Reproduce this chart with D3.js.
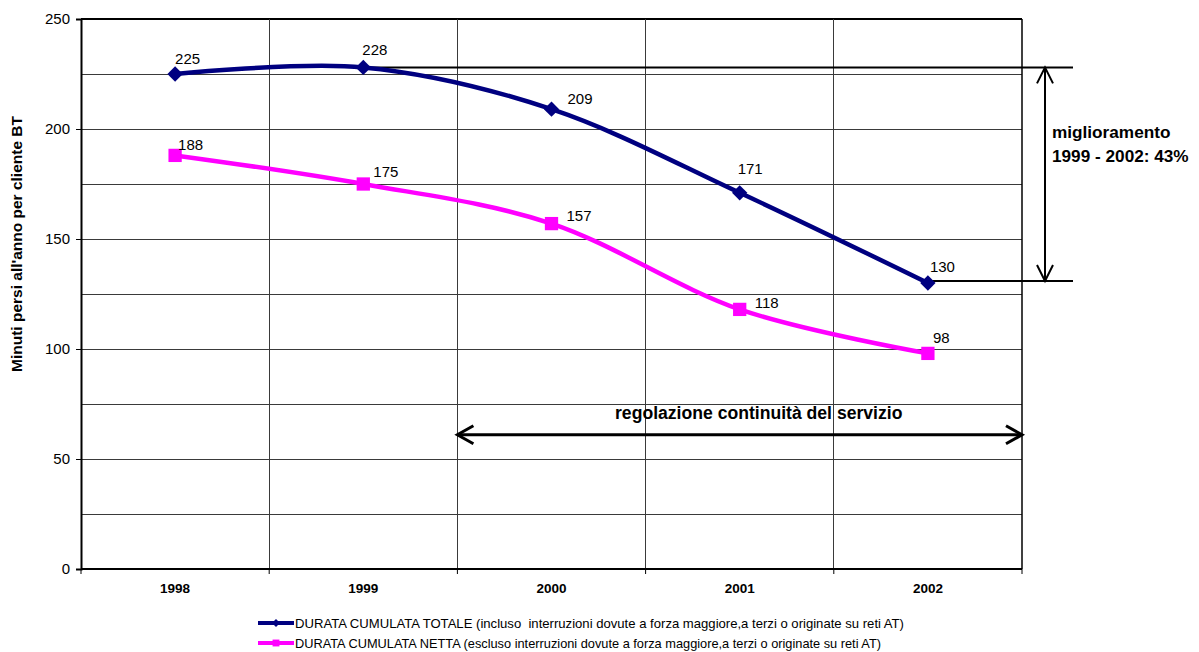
<!DOCTYPE html>
<html>
<head>
<meta charset="utf-8">
<script src="https://cdn.jsdelivr.net/npm/d3@7"></script>
<style>
  html, body { margin: 0; padding: 0; background: #fff; }
  svg { display: block; font-family: "Liberation Sans", Arial, sans-serif; }
  text { white-space: pre; }
</style>
</head>
<body>
<svg id="chart" width="1199" height="652"></svg>
<script>
// Anni e valori (minuti persi all'anno per cliente BT)
const years = ["1998", "1999", "2000", "2001", "2002"];
const durataTotale = [225, 228, 209, 171, 130];
const durataNetta = [188, 175, 157, 118, 98];
const yTickValues = [0, 50, 100, 150, 200, 250];
const gridValues = [25, 50, 75, 100, 125, 150, 175, 200, 225, 250];
const seriesLabels = [
  "DURATA CUMULATA TOTALE (incluso  interruzioni dovute a forza maggiore,a terzi o originate su reti AT)",
  "DURATA CUMULATA NETTA (escluso interruzioni dovute a forza maggiore,a terzi o originate su reti AT)"
];
const yTitle = "Minuti persi all'anno per cliente BT";
const improvementText = ["miglioramento", "1999 - 2002: 43%"];
const regulationText = "regolazione continuità del servizio";
const regulationStartYear = "2000";
const regulationLevel = 61;

// Posizionamento delle etichette dei valori rispetto al punto [dx, dy]
const totaleLabelOffsets = [[0, -10], [-1, -12], [16, -5], [-2, -19], [2, -11]];
const nettaLabelOffsets = [[3, -5], [10, -7], [15, -3], [15, -1], [5, -10]];

const svg = d3.select("#chart");
const plotLeft = 81, plotRight = 1022, plotTop = 19, plotBottom = 569;

const x = d3.scaleBand().domain(years).range([plotLeft, plotRight]).padding(0);
const y = d3.scaleLinear().domain([0, 250]).range([plotBottom, plotTop]);
const cx = d => x(d) + x.bandwidth() / 2;

// Griglia orizzontale
svg.append("g").selectAll("line").data(gridValues).join("line")
  .attr("x1", plotLeft).attr("x2", plotRight)
  .attr("y1", d => y(d)).attr("y2", d => y(d))
  .attr("stroke", d => d === 250 ? "#000" : "#3a3a3a")
  .attr("stroke-width", d => d === 250 ? 1.5 : 1)
  .attr("shape-rendering", "crispEdges");

// Griglia verticale ai confini delle categorie
const boundaries = years.slice(1).map(d => x(d));
svg.append("g").selectAll("line").data(boundaries).join("line")
  .attr("x1", d => d).attr("x2", d => d)
  .attr("y1", plotTop).attr("y2", plotBottom)
  .attr("stroke", "#3a3a3a").attr("stroke-width", 1)
  .attr("shape-rendering", "crispEdges");

// Bordo destro
svg.append("line").attr("x1", plotRight).attr("x2", plotRight)
  .attr("y1", plotTop).attr("y2", plotBottom)
  .attr("stroke", "#000").attr("stroke-width", 1.5);

// Asse Y
const yAxis = d3.axisLeft(y).tickValues(yTickValues).tickSize(5).tickPadding(6);
const gy = svg.append("g").attr("transform", `translate(${plotLeft},0)`).call(yAxis);
gy.select(".domain").attr("stroke", "#000").attr("stroke-width", 2);
gy.selectAll(".tick line").attr("stroke", "#000").attr("stroke-width", 1);
gy.selectAll(".tick text")
  .attr("font-family", "Liberation Sans, Arial, sans-serif")
  .attr("font-size", 15).attr("fill", "#000");

// Asse X: tacche ai confini, etichette al centro
const gx = svg.append("g").attr("transform", `translate(0,${plotBottom})`);
gx.append("line").attr("x1", plotLeft).attr("x2", plotRight).attr("y1", 0).attr("y2", 0)
  .attr("stroke", "#000").attr("stroke-width", 2);
gx.selectAll("line.tk").data([plotLeft, ...boundaries, plotRight]).join("line")
  .attr("class", "tk")
  .attr("x1", d => d).attr("x2", d => d).attr("y1", 0).attr("y2", 5)
  .attr("stroke", "#000").attr("stroke-width", 1);
gx.selectAll("text").data(years).join("text")
  .attr("x", d => cx(d)).attr("y", 24)
  .attr("text-anchor", "middle")
  .attr("font-size", 13.5).attr("font-weight", "bold")
  .text(d => d);

// Titolo asse Y
svg.append("text")
  .attr("transform", `translate(22,${(plotTop + plotBottom) / 2 - 50}) rotate(-90)`)
  .attr("text-anchor", "middle")
  .attr("font-size", 15.5).attr("font-weight", "bold")
  .text(yTitle);

// Annotazione: miglioramento 1999-2002
const yHigh = y(durataTotale[1]);
const yLow = y(durataTotale[4]);
const annX = 1045, annEnd = 1073;
const ann = svg.append("g").attr("stroke", "#000").attr("stroke-width", 2).attr("fill", "none");
ann.append("line").attr("x1", cx(years[1])).attr("x2", annEnd).attr("y1", yHigh).attr("y2", yHigh);
ann.append("line").attr("x1", cx(years[4])).attr("x2", annEnd).attr("y1", yLow - 2).attr("y2", yLow - 2);
ann.append("line").attr("x1", annX).attr("x2", annX).attr("y1", yHigh).attr("y2", yLow - 2);
ann.append("path").attr("d", `M${annX - 8},${yHigh + 16}L${annX},${yHigh}L${annX + 8},${yHigh + 16}`);
ann.append("path").attr("d", `M${annX - 8},${yLow - 18}L${annX},${yLow - 2}L${annX + 8},${yLow - 18}`);
svg.append("g").selectAll("text").data(improvementText).join("text")
  .attr("x", 1052).attr("y", (d, i) => 138 + i * 24)
  .attr("font-size", 17.2).attr("font-weight", "bold")
  .text(d => d);

// Annotazione: regolazione continuità del servizio
const regX1 = x(regulationStartYear), regX2 = plotRight, regY = y(regulationLevel);
const reg = svg.append("g").attr("stroke", "#000").attr("stroke-width", 3).attr("fill", "none");
reg.append("line").attr("x1", regX1).attr("x2", regX2).attr("y1", regY).attr("y2", regY);
reg.append("path").attr("d", `M${regX1 + 16},${regY - 9}L${regX1},${regY}L${regX1 + 16},${regY + 9}`);
reg.append("path").attr("d", `M${regX2 - 16},${regY - 9}L${regX2},${regY}L${regX2 - 16},${regY + 9}`);
svg.append("text")
  .attr("x", 615).attr("y", 419)
  .attr("font-size", 17.6).attr("font-weight", "bold")
  .text(regulationText);

// Serie
const line = d3.line().x(d => cx(d.year)).y(d => y(d.value)).curve(d3.curveCardinal.tension(0));
const series = [
  { values: durataTotale, color: "#000080", marker: "diamond", offsets: totaleLabelOffsets },
  { values: durataNetta, color: "#FF00FF", marker: "square", offsets: nettaLabelOffsets }
];

series.forEach(s => {
  const pts = years.map((yr, i) => ({ year: yr, value: s.values[i], off: s.offsets[i] }));
  svg.append("path").datum(pts)
    .attr("d", line).attr("fill", "none")
    .attr("stroke", s.color).attr("stroke-width", 4.5).attr("stroke-linejoin", "round");
  const sym = s.marker === "diamond"
    ? d3.symbol().type(d3.symbolDiamond2).size(150)
    : d3.symbol().type(d3.symbolSquare2).size(225);
  svg.append("g").selectAll("path").data(pts).join("path")
    .attr("transform", d => `translate(${cx(d.year)},${y(d.value)})`)
    .attr("d", sym).attr("fill", s.color);
  svg.append("g").selectAll("text").data(pts).join("text")
    .attr("x", d => cx(d.year) + d.off[0]).attr("y", d => y(d.value) + d.off[1])
    .attr("font-size", 15).text(d => d.value);
});

// Legenda
const legend = svg.append("g");
series.forEach((s, i) => {
  const ly = 623 + i * 20;
  legend.append("line").attr("x1", 258).attr("x2", 294).attr("y1", ly).attr("y2", ly)
    .attr("stroke", s.color).attr("stroke-width", 4);
  const sym = s.marker === "diamond"
    ? d3.symbol().type(d3.symbolDiamond2).size(40)
    : d3.symbol().type(d3.symbolSquare2).size(60);
  legend.append("path").attr("transform", `translate(276,${ly})`).attr("d", sym).attr("fill", s.color);
  legend.append("text").attr("x", 295).attr("y", ly + 5)
    .attr("font-size", 13)
    .attr("textLength", i === 0 ? 609 : 586).attr("lengthAdjust", "spacingAndGlyphs")
    .text(seriesLabels[i]);
});
</script>
</body>
</html>
